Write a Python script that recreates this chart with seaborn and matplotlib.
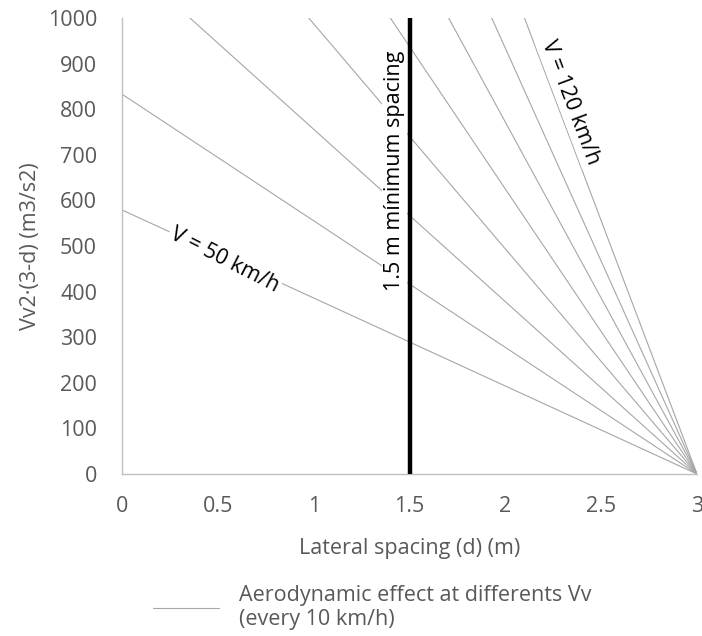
import numpy as np
import pandas as pd
import matplotlib
matplotlib.use("Agg")
import matplotlib.pyplot as plt
import seaborn as sns

# Speeds (km/h) and the value of Vv^2*(3-d) read at d = 0 and d = 3
speeds = [50, 60, 70, 80, 90, 100, 110, 120]
value_at_d0 = [579, 833, 1134, 1481, 1875, 2315, 2801, 3333]
value_at_d3 = [0, 0, 0, 0, 0, 0, 0, 0]
d_points = [0.0, 3.0]
x_ticks = [0, 0.5, 1, 1.5, 2, 2.5, 3]
x_tick_labels = ["0", "0.5", "1", "1.5", "2", "2.5", "3"]
y_ticks = [0, 100, 200, 300, 400, 500, 600, 700, 800, 900, 1000]
min_spacing = 1.5

rows = []
for s, v0, v3 in zip(speeds, value_at_d0, value_at_d3):
    rows.append({"speed": s, "d": d_points[0], "val": v0})
    rows.append({"speed": s, "d": d_points[1], "val": v3})
df = pd.DataFrame(rows)

sns.set_theme(style="white")
plt.rcParams["font.family"] = ["Open Sans", "DejaVu Sans"]

FS = 15.5
GRAY_TXT = "#595959"
fig = plt.figure(figsize=(7.02, 6.36), dpi=100)
ax = fig.add_axes([0.1738, 0.2547, 0.8191, 0.717])

sns.lineplot(data=df, x="d", y="val", units="speed", estimator=None,
             color="#a6a6a6", linewidth=0.8, ax=ax, legend=False)

ax.plot([min_spacing, min_spacing], [0, 1000], color="black", linewidth=3.2,
        solid_capstyle="butt", zorder=5)

ax.set_xlim(0, 3)
ax.set_ylim(0, 1000)
ax.set_xticks(x_ticks)
ax.set_xticklabels(x_tick_labels)
ax.set_yticks(y_ticks)
ax.tick_params(axis="x", length=0, labelsize=FS, colors=GRAY_TXT, pad=16)
ax.tick_params(axis="y", length=0, labelsize=FS, colors=GRAY_TXT, pad=18)
for sp in ["top", "right"]:
    ax.spines[sp].set_visible(False)
for sp in ["left", "bottom"]:
    ax.spines[sp].set_color("#bfbfbf")
    ax.spines[sp].set_linewidth(1.0)

ax.set_xlabel("Lateral spacing (d) (m)", fontsize=FS, color=GRAY_TXT, labelpad=15)
ax.set_ylabel("Vv2·(3-d) (m3/s2)", fontsize=FS, color=GRAY_TXT, labelpad=5)

bbox = dict(facecolor="white", edgecolor="none", pad=1.5)
ax.text(0.535, 470, "V = 50 km/h", rotation=-27, rotation_mode="anchor",
        ha="center", va="center", fontsize=FS, color="black", bbox=bbox, zorder=6)
ax.text(2.34, 815, "V = 120 km/h", rotation=-69.3, rotation_mode="anchor",
        ha="center", va="center", fontsize=FS, color="black", bbox=bbox, zorder=6)
ax.text(1.42, 664, "1.5 m mínimum spacing", rotation=90, rotation_mode="anchor",
        ha="center", va="center", fontsize=FS, color="black", bbox=bbox, zorder=6)

leg = fig.legend(handles=[ax.lines[0]],
                 labels=["Aerodynamic effect at differents Vv\n(every 10 km/h)"],
                 loc="center left", bbox_to_anchor=(0.19, 0.045), frameon=False,
                 fontsize=FS, handlelength=3.1, handletextpad=0.9)
for t in leg.get_texts():
    t.set_color(GRAY_TXT)

fig.savefig("out.png", dpi=100)
